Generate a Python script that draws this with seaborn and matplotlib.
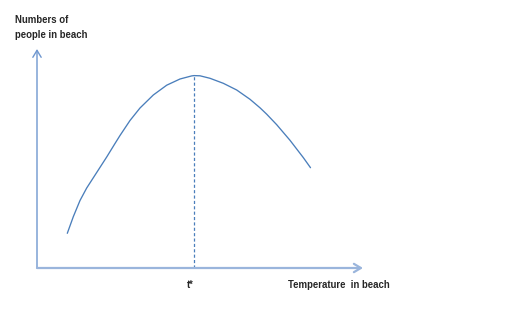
import matplotlib
matplotlib.use("Agg")
import matplotlib.pyplot as plt
import numpy as np
import pandas as pd
import seaborn as sns

# curve (arbitrary units, origin at the axes corner)
temperature = [30.3, 36.3, 43, 49.7, 59.7, 69.7, 78, 83, 93, 103, 116.3, 129.7,
               143, 154.7, 157, 163, 173, 186.3, 199.7, 213, 223, 229.7, 239.7,
               253, 266.3, 273.5]
people = [34.7, 51.3, 67.5, 80, 95.5, 111, 124.5, 132.5, 147.5, 160, 173, 182.8,
          189, 192.1, 192.4, 192.2, 189.7, 184.7, 178, 168.7, 160.2, 153.8,
          143.3, 127.7, 110.4, 100.3]
x_label = "Temperature  in beach"
y_label = "Numbers of\npeople in beach"
peak_label = "t*"

df = pd.DataFrame({"temperature": temperature, "people": people})

sns.set_style("white")
plt.rcParams["font.family"] = ["Liberation Sans", "DejaVu Sans"]

fig = plt.figure(figsize=(5.07, 3.18), dpi=100)
ax = fig.add_axes([0, 0, 1, 1])

sns.lineplot(data=df, x="temperature", y="people", ax=ax, color="#4a7ebb",
             linewidth=0.95, estimator=None, sort=False)

# dashed drop line at the maximum
i_peak = int(np.argmax(people))
ax.vlines(temperature[i_peak], 0, people[i_peak], colors="#4a7ebb",
          linestyles=(0, (2.5, 1.8)), linewidth=0.9)

# axis arrows
ax.annotate("", xy=(0, 219), xytext=(0, 0),
            arrowprops=dict(arrowstyle="->,head_length=0.5,head_width=0.3",
                            color="#6f97cf", lw=1.0, shrinkA=0, shrinkB=0))
ax.annotate("", xy=(326, 0), xytext=(0, 0),
            arrowprops=dict(arrowstyle="->,head_length=0.5,head_width=0.3",
                            color="#9ab5dc", lw=1.6, shrinkA=0, shrinkB=0))

ax.text(-22, 240.5, y_label, fontsize=6.9, fontweight="bold", ha="left",
        va="center", linespacing=1.65)
ax.text(temperature[i_peak] - 0.5, -17, peak_label, fontsize=6.9,
        fontweight="bold", ha="right", va="center")
ax.text(251, -17, x_label, fontsize=6.9, fontweight="bold", ha="left",
        va="center")

ax.set_xlim(-37, 470)
ax.set_ylim(-50, 268)
ax.set_axis_off()

fig.savefig("out.png", dpi=100)
